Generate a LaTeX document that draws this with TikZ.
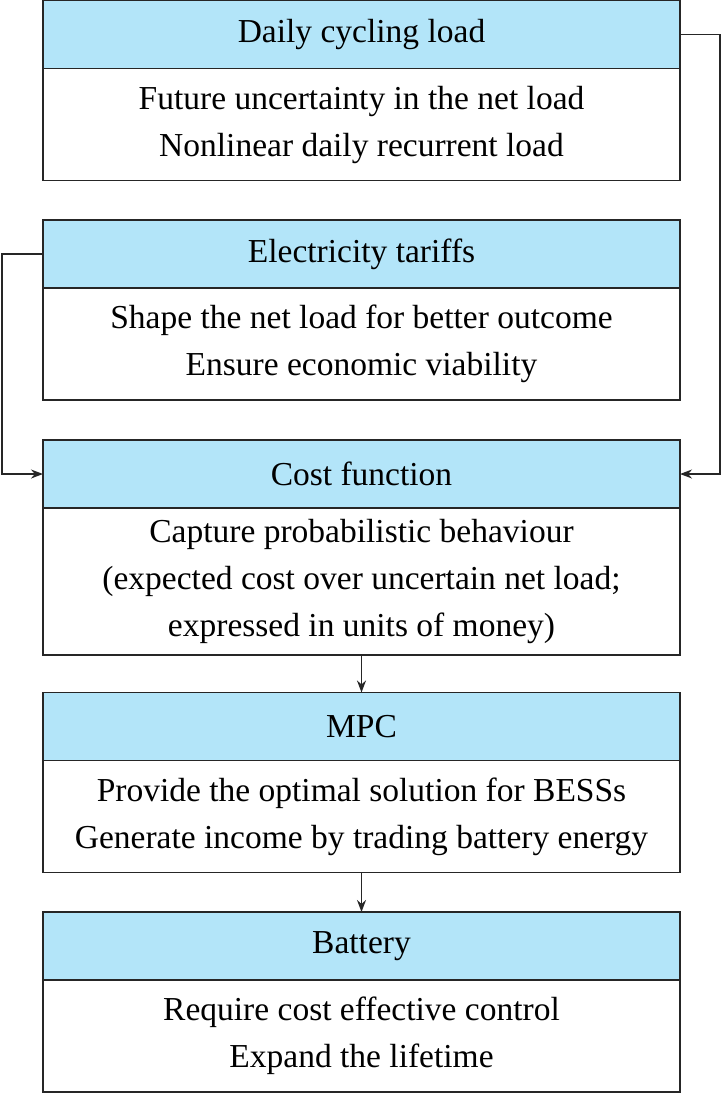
\documentclass[tikz,border=0pt]{standalone}
\usepackage{fontspec}
\setmainfont{Liberation Serif}
\usepackage{tikz}
\usetikzlibrary{positioning,arrows.meta}
\usepackage{xcolor}
\definecolor{headblue}{RGB}{179, 229, 249}

\begin{document}
\begin{tikzpicture}[x=1pt, y=1pt,
        head/.style={draw=black!85, line width=1.8pt, fill=headblue, minimum width=637pt, minimum height=68pt, outer sep=0pt, font=\fontsize{33.5}{47}\selectfont},
        body/.style={draw=black!85, line width=1.8pt, minimum width=637pt, minimum height=112pt, outer sep=0pt, align=center, font=\fontsize{33.5}{47}\selectfont},
        link/.style={draw=black!85, line width=1.6pt, -{Stealth[length=12pt, width=9pt]}}]
        \useasboundingbox (0,0) rectangle (722,-1095);

        % Daily cycling load
        \node[head] (load) at (361.5,-34.5) {Daily cycling load};
        \node[body, below=0pt of load] (loadb) {Future uncertainty in the net load\\Nonlinear daily recurrent load};

        % Electricity tariffs
        \node[head] (tariff) at (361.5,-254) {Electricity tariffs};
        \node[body, below=0pt of tariff] (tariffb) {Shape the net load for better outcome\\Ensure economic viability};

        % Cost function
        \node[head] (cost) at (361.5,-474) {Cost function};
        \node[body, below=0pt of cost, minimum height=147pt] (costb) {Capture probabilistic behaviour\\(expected cost over uncertain net load;\\expressed in units of money)};

        % MPC
        \node[head] (mpc) at (361.5,-726.5) {MPC};
        \node[body, below=0pt of mpc] (mpcb) {Provide the optimal solution for BESSs\\Generate income by trading battery energy};

        % Battery
        \node[head] (bat) at (361.5,-946) {Battery};
        \node[body, below=0pt of bat] (batb) {Require cost effective control\\Expand the lifetime};

        % Connectors
        \draw[link] (load.east) -- ++(40,0) |- (cost.east);
        \draw[link] (tariff.west) -- ++(-41,0) |- (cost.west);
        \draw[link] (costb.south) -- (mpc.north);
        \draw[link] (mpcb.south) -- (bat.north);
    \end{tikzpicture}
\end{document}
